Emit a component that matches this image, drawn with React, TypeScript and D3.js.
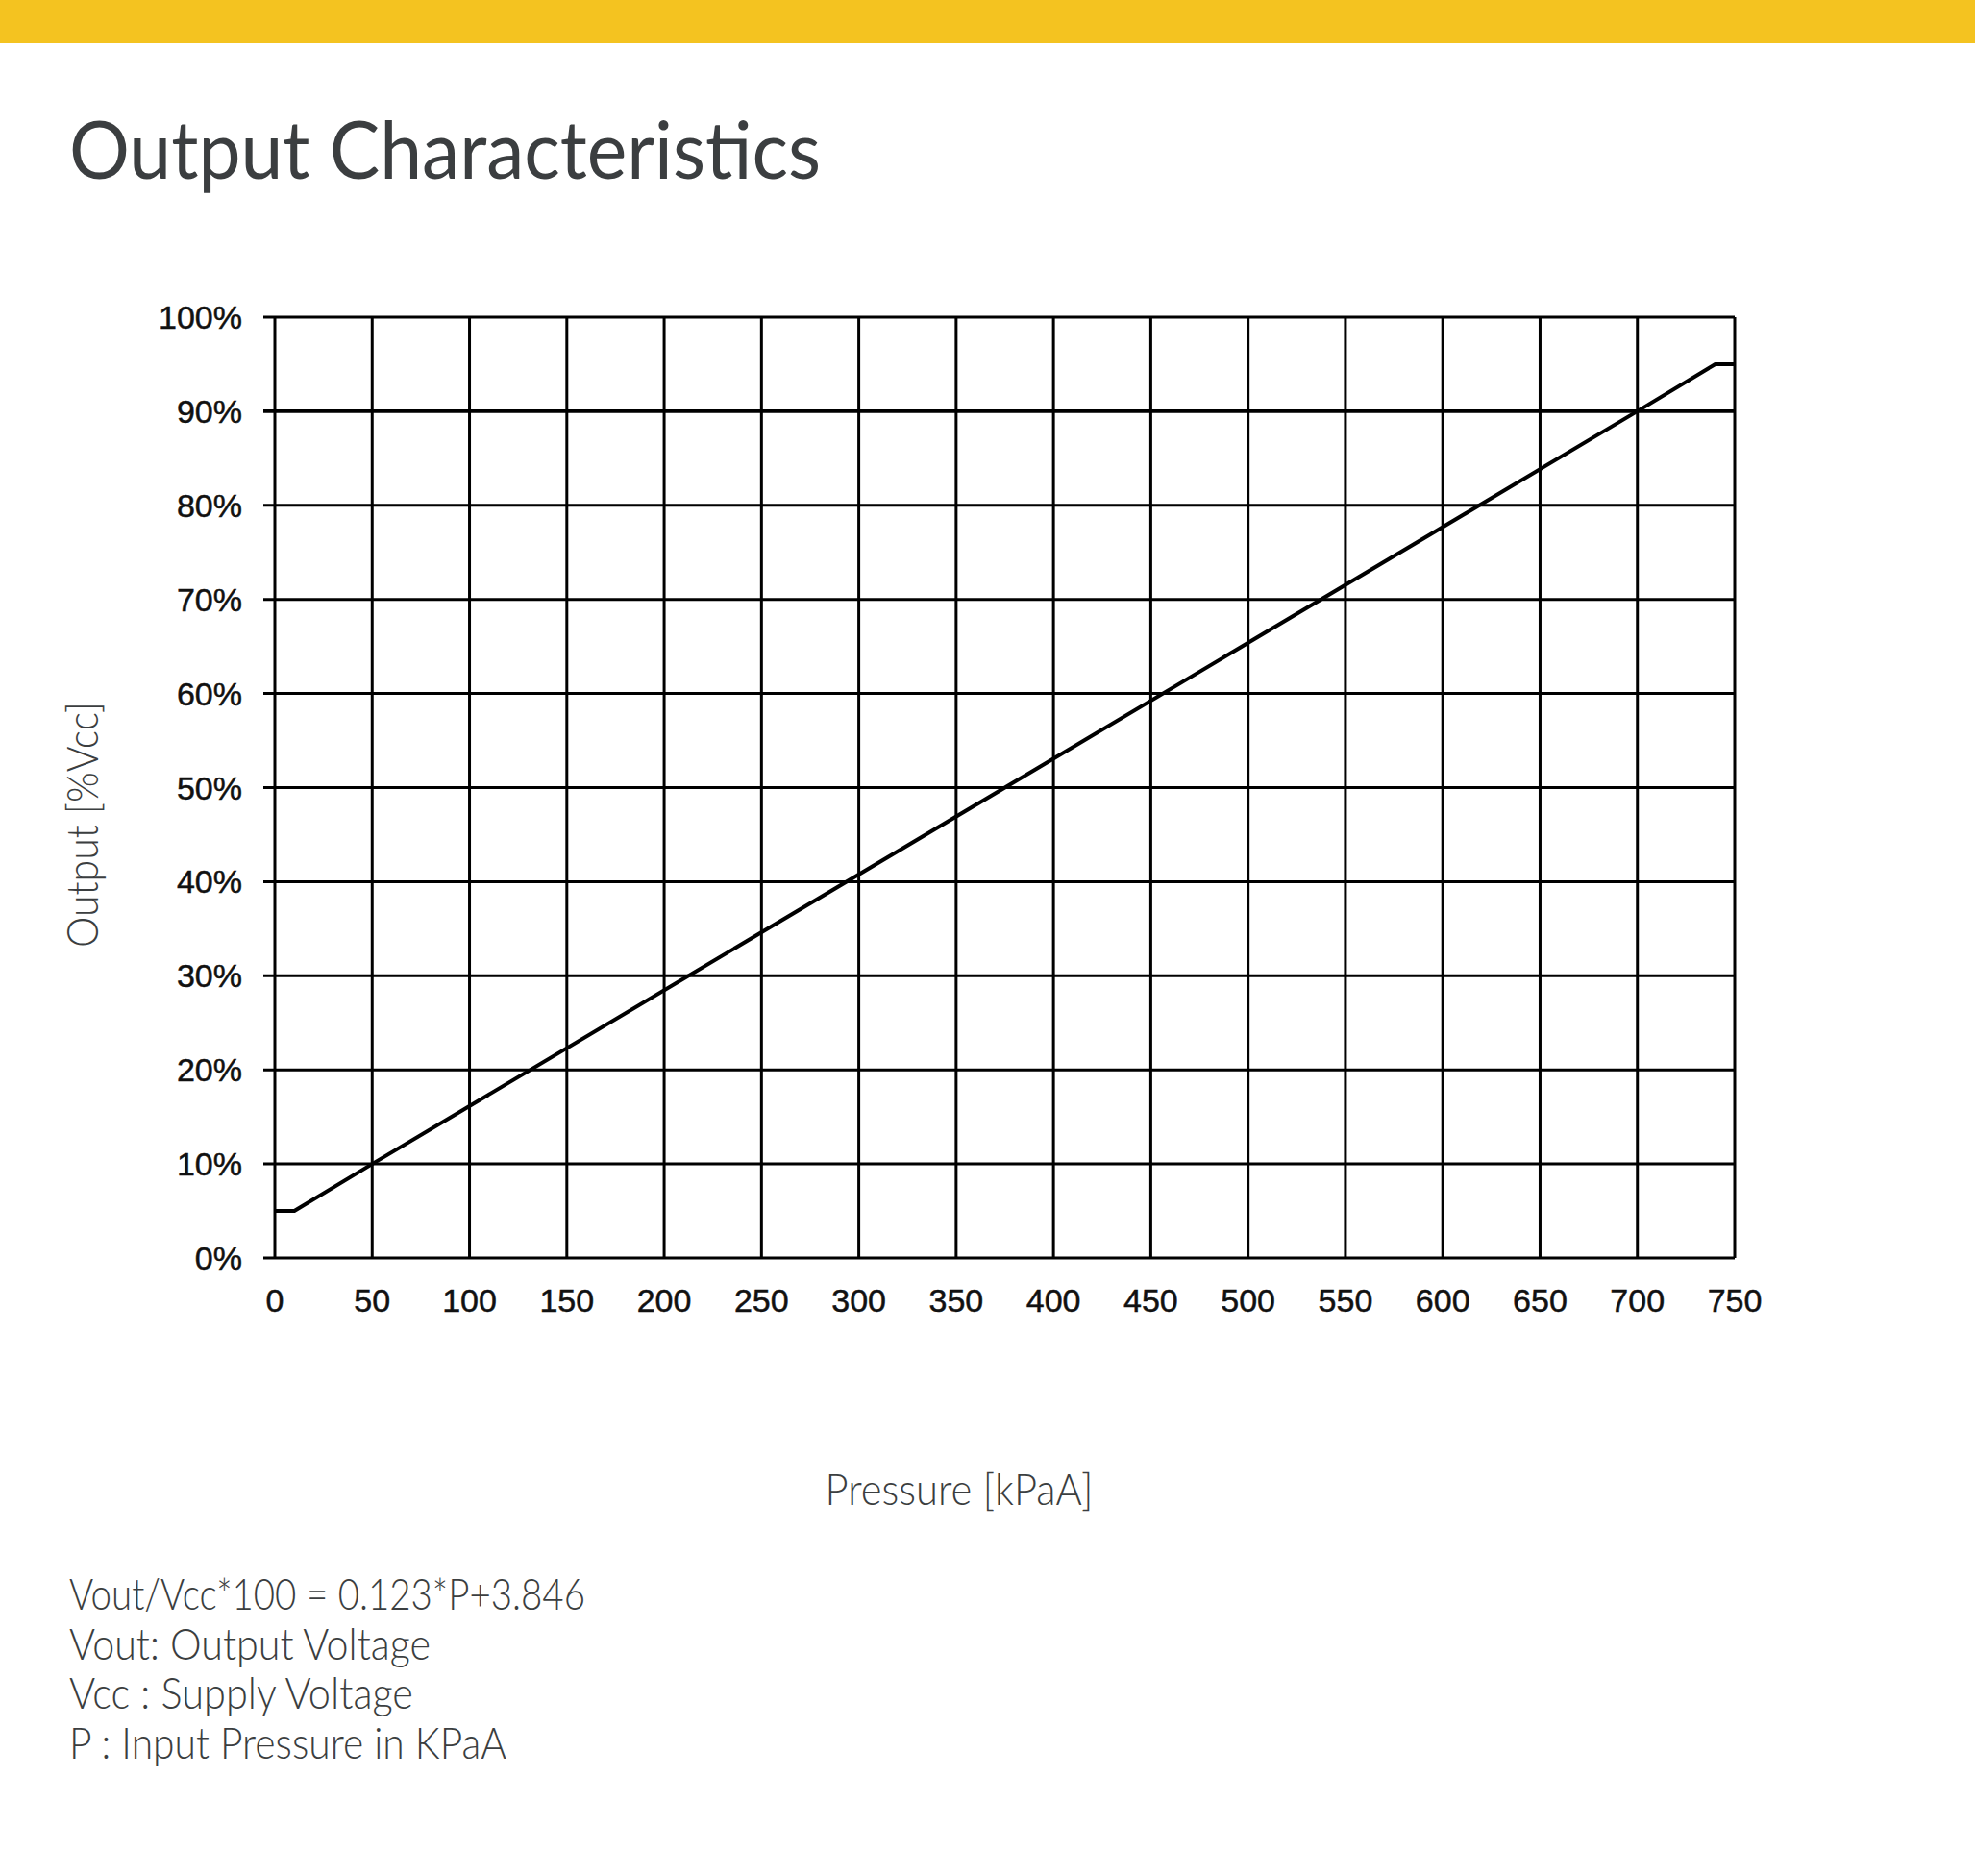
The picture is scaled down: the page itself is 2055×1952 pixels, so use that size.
import React from "react";
import { line, scaleLinear } from "d3";

// Pressure (kPaA) vs output (%Vcc)
const pressure = [0, 10, 50, 700, 740, 750];
const output = [5, 5, 10, 90, 95, 95];

const xTicks = [0, 50, 100, 150, 200, 250, 300, 350, 400, 450, 500, 550, 600, 650, 700, 750];
const yTicks = [0, 10, 20, 30, 40, 50, 60, 70, 80, 90, 100];

const notes = [
  "Vout/Vcc*100 = 0.123*P+3.846",
  "Vout: Output Voltage",
  "Vcc : Supply Voltage",
  "P : Input Pressure in KPaA",
];
const noteWidths = [537, 376, 358, 455];

const App: React.FC = () => {
  const width = 2055;
  const height = 1952;
  const plot = { left: 286, right: 1805, top: 330, bottom: 1309 };

  const x = scaleLinear().domain([0, 750]).range([plot.left, plot.right]);
  const y = scaleLinear().domain([0, 100]).range([plot.bottom, plot.top]);

  const pts = pressure.map((p, i) => [p, output[i]] as [number, number]);
  const curve = line<[number, number]>()
    .x((d) => x(d[0]))
    .y((d) => y(d[1]));

  const textFont = "Lato, 'Open Sans', sans-serif";
  const textColor = "#3b3e40";
  const tickFont = "'Liberation Sans', Arial, sans-serif";

  return (
    <svg
      width={width}
      height={height}
      viewBox={`0 0 ${width} ${height}`}
      style={{ position: "absolute", left: 0, top: 0, background: "#fff" }}
    >
      {/* barra amarilla superior */}
      <rect x={0} y={0} width={width} height={45} fill="#F4C320" />

      {/* titulo */}
      <text
        x={72}
        y={186}
        fontFamily={textFont}
        fontWeight={400}
        fontSize={84}
        fill={textColor}
        textLength={782}
        lengthAdjust="spacingAndGlyphs"
      >
        Output Characteristics
      </text>

      {/* rejilla horizontal + marcas */}
      {yTicks.map((t) => (
        <g key={`y-${t}`}>
          <line
            x1={plot.left - 12}
            x2={plot.right}
            y1={y(t)}
            y2={y(t)}
            stroke="#000"
            strokeWidth={t === 90 ? 3.8 : 3}
          />
          <text
            x={252}
            y={y(t) + 12}
            textAnchor="end"
            fontFamily={tickFont}
            fontSize={34}
            fill="#111"
            stroke="#111"
            strokeWidth={0.5}
          >
            {t}%
          </text>
        </g>
      ))}

      {/* rejilla vertical */}
      {xTicks.map((t) => (
        <g key={`x-${t}`}>
          <line
            x1={x(t)}
            x2={x(t)}
            y1={plot.top}
            y2={plot.bottom}
            stroke="#000"
            strokeWidth={3}
          />
          <text
            x={x(t)}
            y={1365}
            textAnchor="middle"
            fontFamily={tickFont}
            fontSize={34}
            fill="#111"
            stroke="#111"
            strokeWidth={0.5}
          >
            {t}
          </text>
        </g>
      ))}

      {/* curva de salida */}
      <path
        d={curve(pts) ?? ""}
        fill="none"
        stroke="#000"
        strokeWidth={4}
        strokeLinejoin="round"
      />

      {/* titulo eje Y */}
      <text
        transform={`translate(102, 858) rotate(-90)`}
        textAnchor="middle"
        fontFamily={textFont}
        fontWeight={300}
        fontSize={46}
        fill={textColor}
        textLength={256}
        lengthAdjust="spacingAndGlyphs"
      >
        Output [%Vcc]
      </text>

      {/* titulo eje X */}
      <text
        x={998}
        y={1566}
        textAnchor="middle"
        fontFamily={textFont}
        fontWeight={300}
        fontSize={46}
        fill={textColor}
        textLength={279}
        lengthAdjust="spacingAndGlyphs"
      >
        Pressure [kPaA]
      </text>

      {/* notas */}
      {notes.map((n, i) => (
        <text
          key={n}
          x={72}
          y={1675 + i * 51.5}
          fontFamily={textFont}
          fontWeight={300}
          fontSize={46}
          fill={textColor}
          textLength={noteWidths[i]}
          lengthAdjust="spacingAndGlyphs"
        >
          {n}
        </text>
      ))}
    </svg>
  );
};

export default App;
